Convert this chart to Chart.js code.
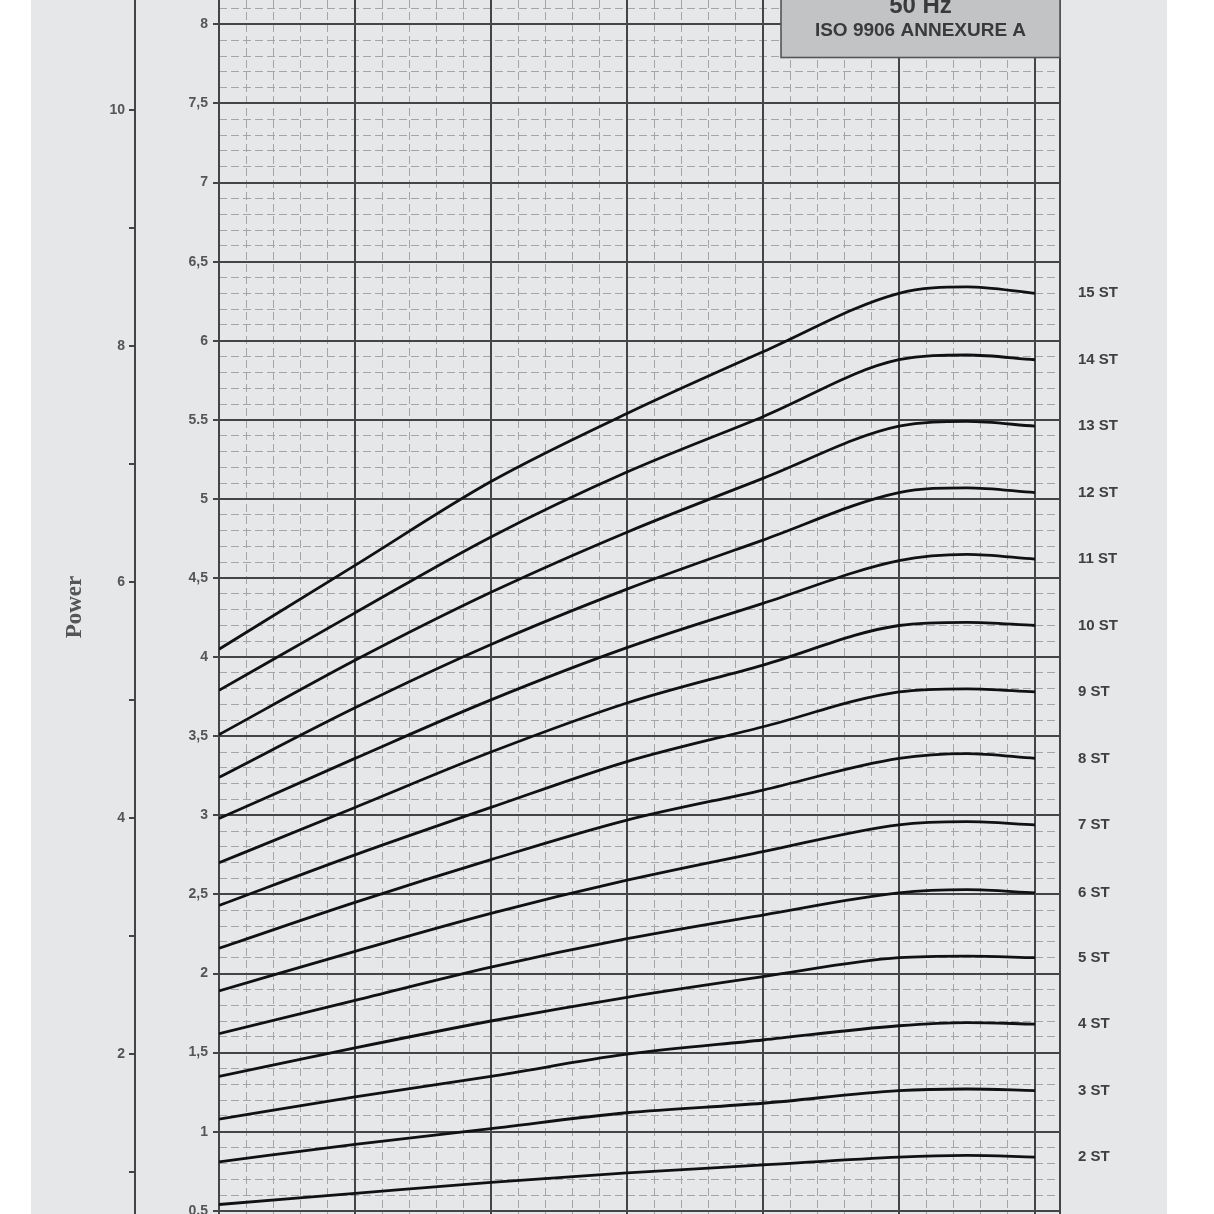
<!DOCTYPE html>
<html><head><meta charset="utf-8">
<script src="https://cdn.jsdelivr.net/npm/chart.js@4/dist/chart.umd.min.js"></script>
<style>
html,body{margin:0;padding:0;background:#fff;width:1214px;height:1214px;overflow:hidden}
#bg{position:absolute;left:31px;top:0;width:1136px;height:1214px;background:#e6e7e9}
#c{position:absolute;left:0;top:0}
</style></head><body>
<div id="bg"></div>
<canvas id="c" width="1214" height="1214"></canvas>
<script>
// ---- data (power in kW) ----
const flow = [0, 1, 2, 3, 4, 5, 5.5, 6];
const st2  = [0.54, 0.61, 0.68, 0.74, 0.79, 0.84, 0.85, 0.84];
const st3  = [0.81, 0.92, 1.02, 1.12, 1.18, 1.26, 1.27, 1.26];
const st4  = [1.08, 1.22, 1.35, 1.49, 1.58, 1.67, 1.69, 1.68];
const st5  = [1.35, 1.53, 1.70, 1.85, 1.98, 2.10, 2.11, 2.10];
const st6  = [1.62, 1.83, 2.04, 2.22, 2.37, 2.51, 2.53, 2.51];
const st7  = [1.89, 2.14, 2.38, 2.59, 2.77, 2.94, 2.96, 2.94];
const st8  = [2.16, 2.45, 2.72, 2.97, 3.16, 3.36, 3.39, 3.36];
const st9  = [2.43, 2.75, 3.05, 3.34, 3.56, 3.78, 3.80, 3.78];
const st10 = [2.70, 3.05, 3.40, 3.71, 3.95, 4.20, 4.22, 4.20];
const st11 = [2.98, 3.36, 3.73, 4.06, 4.34, 4.61, 4.65, 4.62];
const st12 = [3.24, 3.68, 4.08, 4.43, 4.74, 5.04, 5.07, 5.04];
const st13 = [3.51, 3.98, 4.41, 4.79, 5.13, 5.46, 5.49, 5.46];
const st14 = [3.79, 4.28, 4.76, 5.17, 5.52, 5.88, 5.91, 5.88];
const st15 = [4.05, 4.58, 5.11, 5.54, 5.93, 6.30, 6.34, 6.30];
const stageLabels = ['2 ST','3 ST','4 ST','5 ST','6 ST','7 ST','8 ST','9 ST','10 ST','11 ST','12 ST','13 ST','14 ST','15 ST'];
const stageSeries = [st2, st3, st4, st5, st6, st7, st8, st9, st10, st11, st12, st13, st14, st15];

// ---- tick labels ----
const kwTicks = [0.5,1,1.5,2,2.5,3,3.5,4,4.5,5,5.5,6,6.5,7,7.5,8];
const kwTickLabels = ['0,5','1','1,5','2','2,5','3','3,5','4','4,5','5','5.5','6','6,5','7','7,5','8'];
const hpTicks = [1,2,3,4,5,6,7,8,9,10];
const hpTickLabels = ['','2','','4','','6','','8','','10'];
const flowMajorTicks = [0,1,2,3,4,5,6];
const titleLines = ['50 Hz', 'ISO 9906 ANNEXURE A'];
const axisTitle = 'Power';

// ---- scale ranges ----
const KW_TO_HP = 1.341;
const kwMin = 0.48, kwMax = 8.154;
const flowMin = 0, flowMax = 6.184;

const MAJOR = '#454545', MINOR = '#a4a5a6', TXT = '#555';
const boldSans = {family: '"Liberation Sans", Arial, sans-serif', weight: 'bold', size: 14};

const noPad = s => { s.paddingTop = 0; s.paddingBottom = 0; s.paddingLeft = 0; s.paddingRight = 0; };

const stLabelPlugin = {
  id: 'stLabels',
  afterDatasetsDraw(chart) {
    const ctx = chart.ctx;
    ctx.save();
    ctx.font = 'bold 15px "Liberation Sans", Arial, sans-serif';
    ctx.fillStyle = '#404040';
    ctx.textAlign = 'left';
    ctx.textBaseline = 'middle';
    chart.data.datasets.forEach((ds, i) => {
      const meta = chart.getDatasetMeta(i);
      const pt = meta.data[meta.data.length - 1];
      ctx.fillText(ds.label, chart.chartArea.right + 18, pt.y);
    });
    ctx.restore();
  }
};

const titleBoxPlugin = {
  id: 'titleBox',
  afterDraw(chart) {
    const ctx = chart.ctx;
    const right = chart.chartArea.right;
    const left = 781, bottom = 57.5;
    ctx.save();
    ctx.fillStyle = '#c2c3c5';
    ctx.fillRect(left, -10, right - left, bottom + 10);
    ctx.strokeStyle = '#555';
    ctx.lineWidth = 1.6;
    ctx.strokeRect(left, -10, right - left, bottom + 10);
    ctx.fillStyle = '#3a3a3a';
    ctx.textAlign = 'center';
    ctx.textBaseline = 'alphabetic';
    const cx = (left + right) / 2;
    ctx.font = 'bold 24px "Liberation Sans", Arial, sans-serif';
    ctx.fillText(titleLines[0], cx, 12.5);
    ctx.font = 'bold 19px "Liberation Sans", Arial, sans-serif';
    ctx.fillText(titleLines[1], cx, 36);
    ctx.restore();
  }
};

new Chart(document.getElementById('c'), {
  type: 'line',
  data: {
    datasets: stageSeries.map((s, i) => ({
      label: stageLabels[i],
      data: flow.map((x, j) => ({x: x, y: s[j]})),
      borderColor: '#111',
      borderWidth: 2.8,
      pointRadius: 0,
      fill: false,
      cubicInterpolationMode: 'monotone',
      xAxisID: 'x',
      yAxisID: 'y'
    }))
  },
  options: {
    responsive: false,
    animation: false,
    devicePixelRatio: 1,
    layout: {padding: {left: 0, right: 154, top: 0, bottom: 0}},
    plugins: {legend: {display: false}, tooltip: {enabled: false}},
    scales: {
      x: {
        type: 'linear', position: 'bottom', min: flowMin, max: flowMax,
        grid: {color: MAJOR, lineWidth: 2, drawTicks: false},
        border: {display: false},
        ticks: {display: false},
        afterBuildTicks: s => { s.ticks = flowMajorTicks.concat([flowMax]).map(v => ({value: v})); },
        afterFit: s => { s.height = 0; noPad(s); }
      },
      xMinor: {
        type: 'linear', position: 'bottom', min: flowMin, max: flowMax,
        grid: {color: MINOR, lineWidth: 1, drawTicks: false, z: -2},
        border: {display: false, dash: [8, 4]},
        ticks: {display: false, stepSize: 0.2, includeBounds: false},
        afterFit: s => { s.height = 0; noPad(s); }
      },
      yMinor: {
        type: 'linear', position: 'left', weight: -1, min: kwMin, max: kwMax,
        grid: {color: MINOR, lineWidth: 1, drawTicks: false, z: -2},
        border: {display: false, dash: [8, 4]},
        ticks: {display: false, stepSize: 0.1, includeBounds: false},
        afterFit: s => { s.width = 0; noPad(s); }
      },
      y: {
        type: 'linear', position: 'left', weight: 0, min: kwMin, max: kwMax,
        grid: {color: MAJOR, lineWidth: 2, drawTicks: true, tickLength: 6},
        border: {display: true, color: '#444', width: 2},
        ticks: {
          autoSkip: false, color: TXT, font: boldSans, padding: 5,
          callback: (v, i) => kwTickLabels[kwTicks.indexOf(v)] ?? ''
        },
        afterBuildTicks: s => { s.ticks = kwTicks.map(v => ({value: v})); },
        afterFit: s => { s.width = 84; noPad(s); }
      },
      hp: {
        type: 'linear', position: 'left', weight: 10,
        min: kwMin * KW_TO_HP, max: kwMax * KW_TO_HP,
        grid: {drawOnChartArea: false, drawTicks: true, tickLength: 6, color: '#444', lineWidth: 2},
        border: {display: true, color: '#444', width: 2},
        ticks: {
          autoSkip: false, color: TXT, font: boldSans, padding: 4,
          callback: (v) => hpTickLabels[hpTicks.indexOf(v)] ?? ''
        },
        title: {
          display: true, text: axisTitle, color: '#555',
          font: {family: '"Liberation Serif", "DejaVu Serif", serif', weight: 'bold', size: 23},
          padding: {top: 61, bottom: 0}
        },
        afterBuildTicks: s => { s.ticks = hpTicks.map(v => ({value: v})); },
        afterFit: s => { s.width = 135; noPad(s); }
      }
    }
  },
  plugins: [stLabelPlugin, titleBoxPlugin]
});
</script>
</body></html>
